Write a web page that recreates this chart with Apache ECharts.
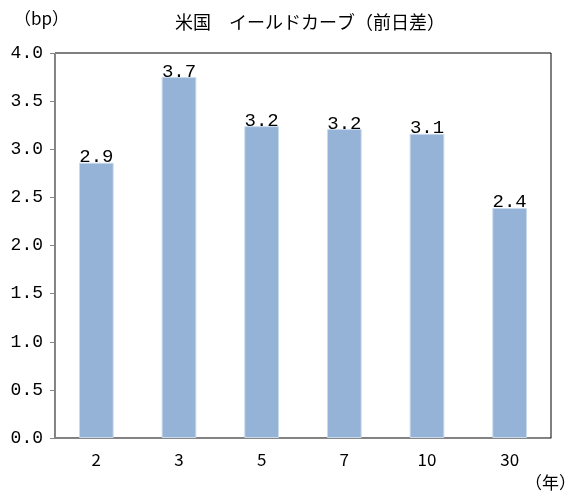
<!DOCTYPE html>
<html>
<head>
<meta charset="utf-8">
<script src="https://cdn.jsdelivr.net/npm/echarts@6/dist/echarts.min.js"></script>
<style>html,body{margin:0;padding:0;background:#fff}#c{width:576px;height:498px}</style>
</head>
<body>
<div id="c"></div>
<script>
var categories = ['2', '3', '5', '7', '10', '30'];
var values = [2.86, 3.75, 3.24, 3.21, 3.16, 2.39];
var labels = ['2.9', '3.7', '3.2', '3.2', '3.1', '2.4'];
var yTicks = [0, 0.5, 1.0, 1.5, 2.0, 2.5, 3.0, 3.5, 4.0];
var title = '米国　イールドカーブ（前日差）';
var yUnit = '（bp）';
var xUnit = '（年）';

var chart = echarts.init(document.getElementById('c'));
var jp = 'Noto Sans CJK JP';
var mono = 'Liberation Mono';
chart.setOption({
  animation: false,
  backgroundColor: '#fff',
  title: {
    text: title, left: 305, top: 8, textAlign: 'center',
    textStyle: { fontFamily: jp, fontSize: 18, fontWeight: 'normal', color: '#000' }
  },
  graphic: [
    { type: 'text', left: 14, top: 10, style: { text: yUnit, fontFamily: jp, fontSize: 17, fill: '#000' } },
    { type: 'text', right: 0, top: 474, style: { text: xUnit, fontFamily: jp, fontSize: 17, fill: '#000' } }
  ],
  grid: { left: 55, right: 25, top: 53, bottom: 60, show: true, borderColor: '#000', borderWidth: 1, backgroundColor: 'transparent' },
  xAxis: {
    type: 'category', data: categories,
    axisLine: { lineStyle: { color: '#868686', width: 1 } },
    axisTick: { show: false },
    axisLabel: { margin: 13, fontFamily: jp, fontSize: 17, color: '#000' }
  },
  yAxis: {
    type: 'value', min: 0, max: 4, interval: 0.5,
    axisLine: { show: true, lineStyle: { color: '#868686', width: 1 } },
    axisTick: { show: true, length: 5, lineStyle: { color: '#868686' } },
    splitLine: { show: false },
    axisLabel: {
      margin: 12, fontFamily: mono, fontSize: 18, color: '#000',
      formatter: function (v) { return v.toFixed(1); }
    }
  },
  series: [{
    type: 'bar', data: values, barWidth: '42%',
    itemStyle: { color: '#95B3D7', borderColor: '#C9DAEC', borderWidth: 1 },
    label: {
      show: true, position: 'top', distance: -4,
      fontFamily: mono, fontSize: 19, color: '#000',
      formatter: function (p) { return labels[p.dataIndex]; }
    }
  }]
});
</script>
</body>
</html>
